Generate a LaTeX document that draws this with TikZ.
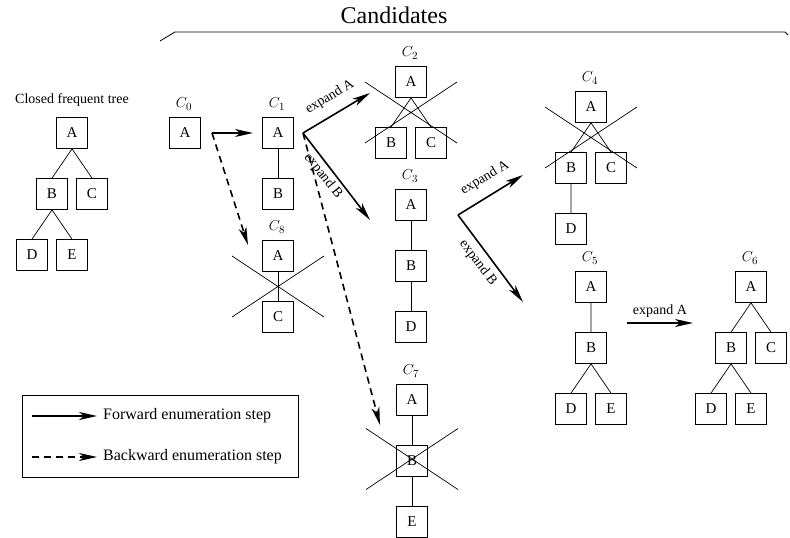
\documentclass[tikz,border=0pt]{standalone}
\usepackage{fontspec}
\setmainfont{Liberation Serif}
\usetikzlibrary{arrows.meta}
\begin{document}
\begin{tikzpicture}[x=1pt,y=-1pt,
 box/.style={draw, line width=0.8pt, minimum size=31pt, inner sep=0pt, font=\fontsize{15}{18}\selectfont},
 edge/.style={line width=0.7pt},
 cross/.style={line width=0.7pt},
 fwd/.style={line width=1.6pt, -{Stealth[length=18pt,width=8pt,inset=5pt]}},
 bwd/.style={fwd, dash pattern=on 7pt off 5pt},
 clabel/.style={font=\fontsize{15}{18}\selectfont, inner sep=0pt},
 elabel/.style={font=\fontsize{14}{16}\selectfont, inner sep=0pt},
]
\useasboundingbox (0,0) rectangle (790,538);

% title and bracket
\node[font=\fontsize{24}{28}\selectfont] (cand) at (394,15) {Candidates};
\draw[line width=0.8pt] (160,41) -- (175,32) -- (785,32) -- (788,35);

% closed frequent tree
\node[font=\fontsize{14}{16}\selectfont] (cft) at (72,100) {Closed frequent tree};
\node[box] (tA) at (72,133) {A};
\node[box] (tB) at (52,194) {B};
\node[box] (tC) at (92,194) {C};
\node[box] (tD) at (32,255) {D};
\node[box] (tE) at (72,255) {E};
\draw[edge] (tA.south) -- (tB.north) (tA.south) -- (tC.north)
 (tB.south) -- (tD.north) (tB.south) -- (tE.north);

% C0
\node[clabel] (l0) at (184,104) {$C_0$};
\node[box] (c0A) at (185,133) {A};

% C1
\node[clabel] (l1) at (277,104) {$C_1$};
\node[box] (c1A) at (278,133) {A};
\node[box] (c1B) at (278,194) {B};
\draw[edge] (c1A.south) -- (c1B.north);

% C8
\node[clabel] (l8) at (277,227) {$C_8$};
\node[box] (c8A) at (278,256) {A};
\node[box] (c8C) at (278,317) {C};
\draw[edge] (c8A.south) -- (c8C.north);
\coordinate (x8) at (278,286.5);
\draw[cross] (x8) +(-46,-30.5) -- +(46,30.5) (x8) +(-46,30.5) -- +(46,-30.5);

% C2
\node[clabel] (l2) at (410,53) {$C_2$};
\node[box] (c2A) at (411,82) {A};
\node[box] (c2B) at (391,143) {B};
\node[box] (c2C) at (431,143) {C};
\draw[edge] (c2A.south) -- (c2B.north) (c2A.south) -- (c2C.north);
\coordinate (x2) at (411,112.5);
\draw[cross] (x2) +(-46,-30.5) -- +(46,30.5) (x2) +(-46,30.5) -- +(46,-30.5);

% C3
\node[clabel] (l3) at (410,176) {$C_3$};
\node[box] (c3A) at (411,205) {A};
\node[box] (c3B) at (411,266) {B};
\node[box] (c3D) at (411,327) {D};
\draw[edge] (c3A.south) -- (c3B.north) (c3B.south) -- (c3D.north);

% C7
\node[clabel] (l7) at (411,371) {$C_7$};
\node[box] (c7A) at (412,400) {A};
\node[box] (c7B) at (412,461) {B};
\node[box] (c7E) at (412,522) {E};
\draw[edge] (c7A.south) -- (c7B.north) (c7B.south) -- (c7E.north);
\coordinate (x7) at (412,459);
\draw[cross] (x7) +(-46,-30.5) -- +(46,30.5) (x7) +(-46,30.5) -- +(46,-30.5);

% C4
\node[clabel] (l4) at (590,78) {$C_4$};
\node[box] (c4A) at (591,107) {A};
\node[box] (c4B) at (571,168) {B};
\node[box] (c4C) at (611,168) {C};
\node[box] (c4D) at (571,229) {D};
\draw[edge] (c4A.south) -- (c4B.north) (c4A.south) -- (c4C.north) (c4B.south) -- (c4D.north);
\coordinate (x4) at (591,137.5);
\draw[cross] (x4) +(-46,-30.5) -- +(46,30.5) (x4) +(-46,30.5) -- +(46,-30.5);

% C5
\node[clabel] (l5) at (590,258) {$C_5$};
\node[box] (c5A) at (591,287) {A};
\node[box] (c5B) at (591,348) {B};
\node[box] (c5D) at (571,409) {D};
\node[box] (c5E) at (611,409) {E};
\draw[edge] (c5A.south) -- (c5B.north) (c5B.south) -- (c5D.north) (c5B.south) -- (c5E.north);

% C6
\node[clabel] (l6) at (750,258) {$C_6$};
\node[box] (c6A) at (751,287) {A};
\node[box] (c6B) at (731,348) {B};
\node[box] (c6C) at (771,348) {C};
\node[box] (c6D) at (711,409) {D};
\node[box] (c6E) at (751,409) {E};
\draw[edge] (c6A.south) -- (c6B.north) (c6A.south) -- (c6C.north)
 (c6B.south) -- (c6D.north) (c6B.south) -- (c6E.north);

% enumeration steps
\coordinate (c0o) at (212,133);
\coordinate (c1in) at (253,133);
\coordinate (c8in) at (248,245);
\coordinate (c1o) at (303,133);
\coordinate (c2in) at (370,93);
\coordinate (c3in) at (370,220);
\coordinate (c7in) at (380,425);
\coordinate (c3o) at (458,215);
\coordinate (c4in) at (523,175);
\coordinate (c5in) at (523,302);
\coordinate (c5o) at (627,323);
\coordinate (c6in) at (693,323);

\draw[fwd] (c0o) -- (c1in);
\draw[bwd] (c0o) -- (c8in);
\draw[fwd] (c1o) -- (c2in);
\draw[fwd] (c1o) -- (c3in);
\draw[bwd] (c1o) -- (c7in);
\draw[fwd] (c3o) -- (c4in);
\draw[fwd] (c3o) -- (c5in);
\draw[fwd] (c5o) -- (c6in);

\node[elabel, rotate=31] (e1) at (330,97) {expand A};
\node[elabel, rotate=-52] (e2) at (323,176) {expand B};
\node[elabel, rotate=31] (e3) at (485,178) {expand A};
\node[elabel, rotate=-53] (e4) at (478,263) {expand B};
\node[elabel] (e5) at (660,311) {expand A};

% legend
\node[draw, line width=0.8pt, minimum width=276pt, minimum height=82pt, inner sep=0pt] (leg) at (160,436) {};
\coordinate (lf1) at (32,416);
\coordinate (lf2) at (97,416);
\coordinate (lb1) at (32,457);
\coordinate (lb2) at (97,457);
\draw[fwd] (lf1) -- (lf2);
\draw[bwd] (lb1) -- (lb2);
\node[anchor=west, font=\fontsize{16}{19}\selectfont, inner sep=0pt] (lft) at (103,416) {Forward enumeration step};
\node[anchor=west, font=\fontsize{16}{19}\selectfont, inner sep=0pt] (lbt) at (103,457) {Backward enumeration step};
\end{tikzpicture}
\end{document}
